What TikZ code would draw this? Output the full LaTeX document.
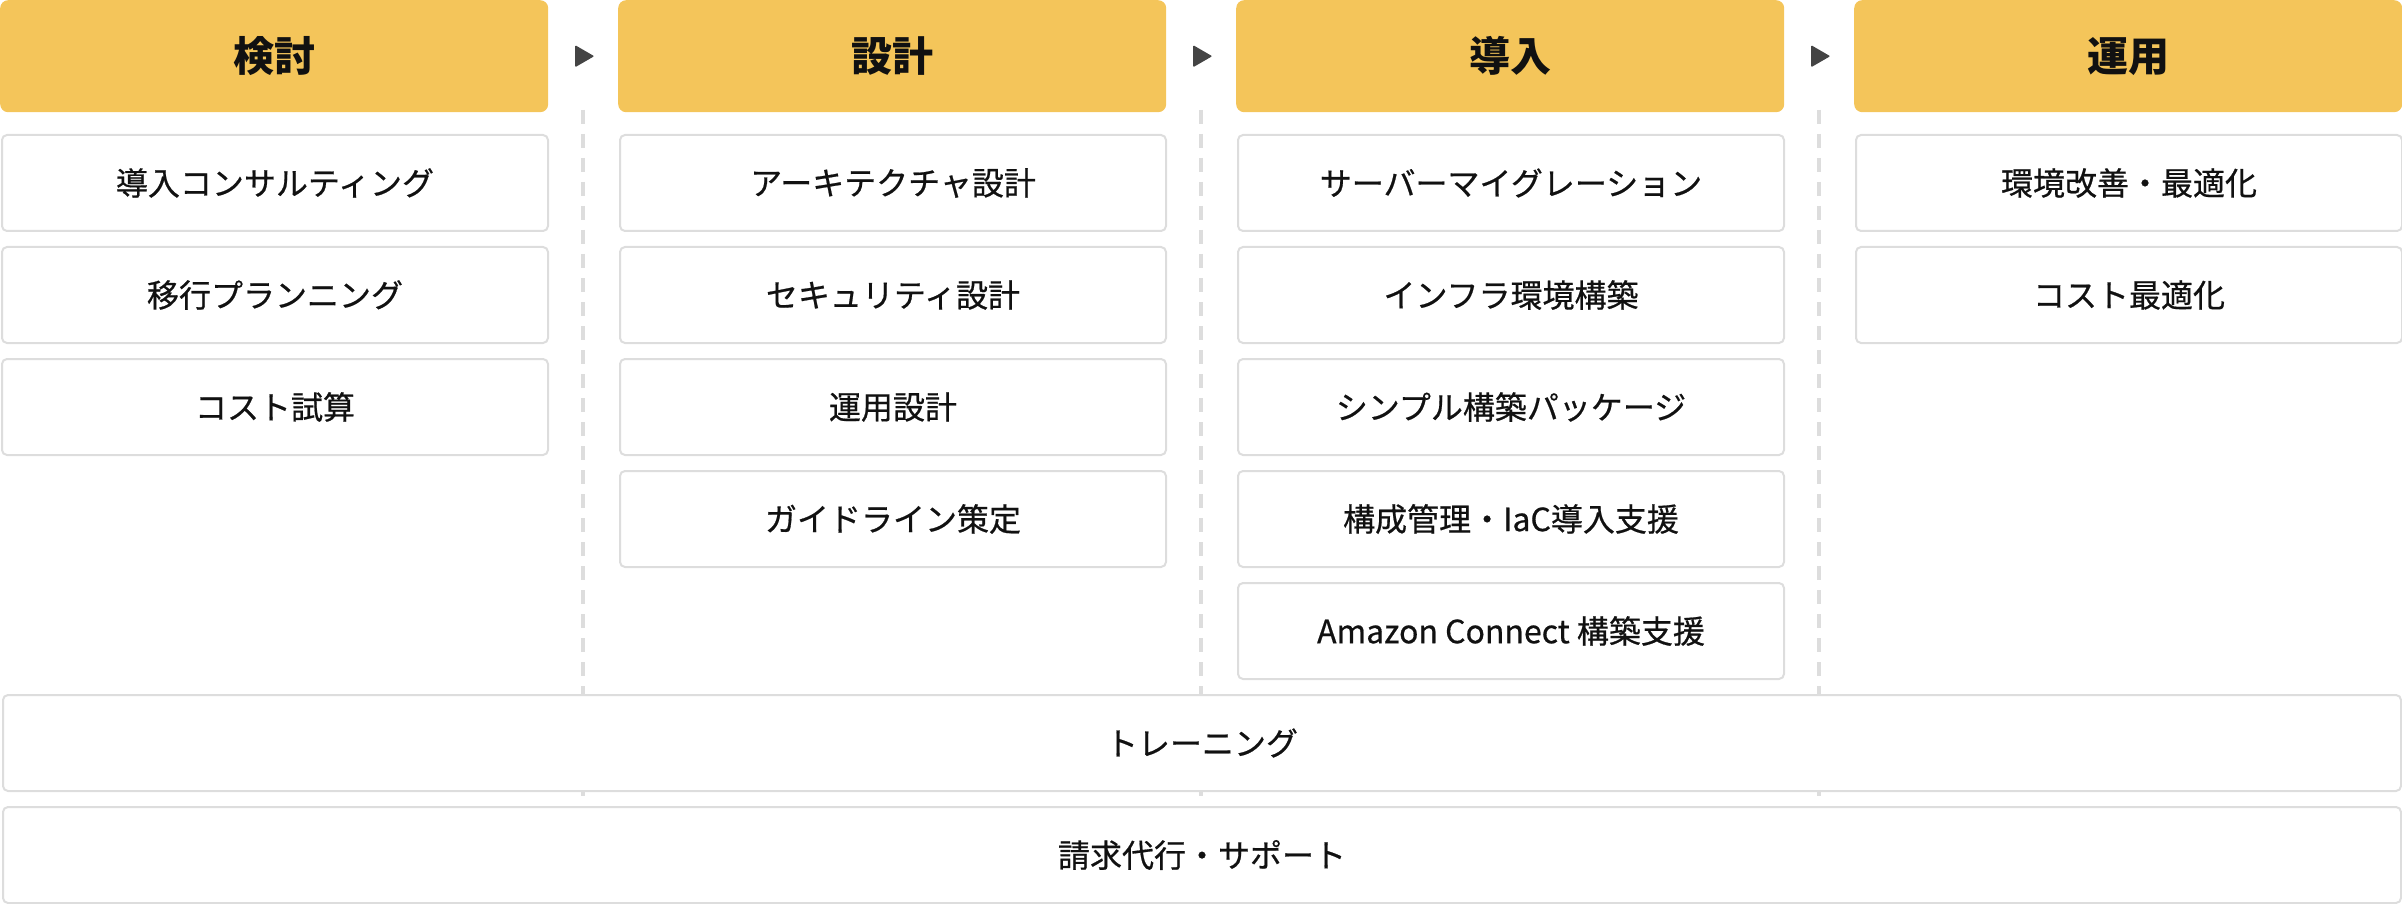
\documentclass[tikz,border=0pt]{standalone}
\usepackage{fontspec}
\setmainfont{Noto Sans CJK JP}
\newfontfamily\itemfont[FakeBold=0.6]{Noto Sans CJK JP}
\usetikzlibrary{calc}
\definecolor{hdr}{HTML}{F4C55A}
\definecolor{bord}{HTML}{DDDDDD}
\definecolor{arr}{HTML}{444444}
\definecolor{txt}{HTML}{111111}
\tikzset{
  hdrbox/.style={fill=hdr, rounded corners=8pt, minimum width=548pt, minimum height=112pt, anchor=north west, inner sep=0pt, text=txt, font=\fontsize{41}{41}\selectfont\bfseries},
  itembox/.style={draw=bord, fill=white, line width=2pt, rounded corners=5pt, minimum width=546pt, minimum height=96pt, anchor=north west, inner sep=0pt, text=txt, font=\itemfont\fontsize{32}{32}\selectfont},
  widebox/.style={itembox, minimum width=2398pt},
  sepline/.style={draw=bord, line width=4pt, dash pattern=on 14pt off 10pt},
  tri/.style={fill=arr, rounded corners=1pt}
}
\begin{document}
\begin{tikzpicture}[x=1pt,y=-1pt]
\useasboundingbox (0,0) rectangle (2402,904);
% dashed separators
\foreach \i/\xx in {1/583,2/1201,3/1819}{
  \coordinate (st\i) at (\xx,110);
  \coordinate (en\i) at (\xx,904);
  \draw[sepline] (st\i) -- (en\i);
}
% headers
\node[hdrbox] (h1) at (0,0) {検討};
\node[hdrbox] (h2) at (618,0) {設計};
\node[hdrbox] (h3) at (1236,0) {導入};
\node[hdrbox] (h4) at (1854,0) {運用};
% arrows
\foreach \a/\b in {h1/h2,h2/h3,h3/h4}{
  \fill[tri] ($(\a.east)!0.5!(\b.west)$) ++(-8,-11) -- ++(19,11) -- ++(-19,11) -- cycle;
}
% column 1
\node[itembox] (a1) at (1,134) {導入コンサルティング};
\node[itembox] (a2) at (1,246) {移行プランニング};
\node[itembox] (a3) at (1,358) {コスト試算};
% column 2
\node[itembox] (b1) at (619,134) {アーキテクチャ設計};
\node[itembox] (b2) at (619,246) {セキュリティ設計};
\node[itembox] (b3) at (619,358) {運用設計};
\node[itembox] (b4) at (619,470) {ガイドライン策定};
% column 3
\node[itembox] (c1) at (1237,134) {サーバーマイグレーション};
\node[itembox] (c2) at (1237,246) {インフラ環境構築};
\node[itembox] (c3) at (1237,358) {シンプル構築パッケージ};
\node[itembox] (c4) at (1237,470) {構成管理・IaC導入支援};
\node[itembox] (c5) at (1237,582) {Amazon Connect 構築支援};
% column 4
\node[itembox] (d1) at (1855,134) {環境改善・最適化};
\node[itembox] (d2) at (1855,246) {コスト最適化};
% wide rows
\node[widebox] (w1) at (2,694) {トレーニング};
\node[widebox] (w2) at (2,806) {請求代行・サポート};
\end{tikzpicture}
\end{document}
